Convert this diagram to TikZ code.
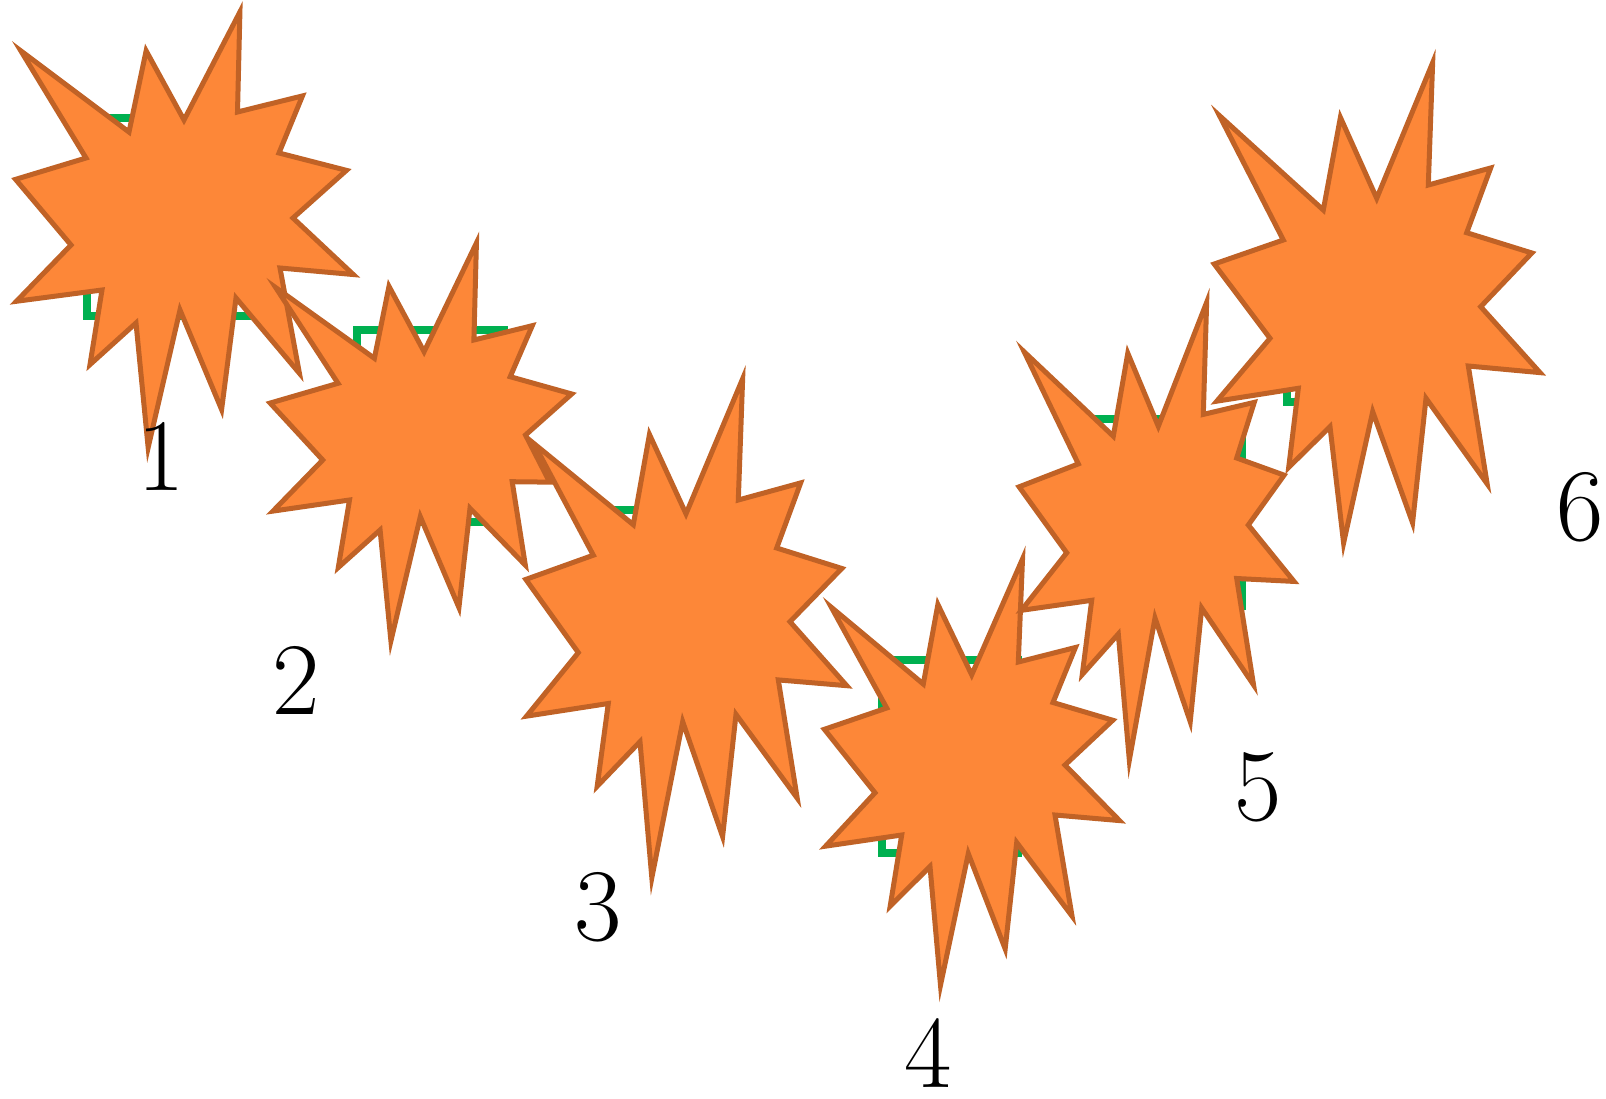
\documentclass[tikz,border=0pt]{standalone}
\usepackage{fontspec}
\definecolor{starfill}{RGB}{253,135,56}
\definecolor{starline}{RGB}{192,98,38}
\definecolor{boxgreen}{RGB}{0,176,80}
% #1 = name prefix, #2 = 24 vertices x/y (tip, inner, tip, inner, ...) as seen;
% tips are pulled back by the miter overhang of the 5pt outline
\newcommand\makeburst[2]{%
  \foreach [count=\k] \vx/\vy in {#2} {%
    \expandafter\xdef\csname bx#1\k\endcsname{\vx}%
    \expandafter\xdef\csname by#1\k\endcsname{\vy}}%
  \foreach \k in {1,3,...,23} {%
    \pgfmathtruncatemacro\kp{\k==1 ? 24 : \k-1}%
    \pgfmathtruncatemacro\kn{\k+1}%
    \edef\xa{\csname bx#1\k\endcsname}\edef\ya{\csname by#1\k\endcsname}%
    \edef\xb{\csname bx#1\kp\endcsname}\edef\yb{\csname by#1\kp\endcsname}%
    \edef\xc{\csname bx#1\kn\endcsname}\edef\yc{\csname by#1\kn\endcsname}%
    \pgfmathsetmacro\aone{atan2(\yb-\ya,\xb-\xa)}%
    \pgfmathsetmacro\atwo{atan2(\yc-\ya,\xc-\xa)}%
    \pgfmathsetmacro\dif{mod(\atwo-\aone+540,360)-180}%
    \pgfmathsetmacro\bis{\aone+\dif/2}%
    \pgfmathsetmacro\dd{2.5/sin(abs(\dif)/2)}%
    \pgfmathsetmacro\nx{\xa+\dd*cos(\bis)}%
    \pgfmathsetmacro\ny{\ya+\dd*sin(\bis)}%
    \coordinate (#1t\k) at (\nx,\ny);%
  }%
  \foreach \k in {2,4,...,24} {%
    \edef\xa{\csname bx#1\k\endcsname}\edef\ya{\csname by#1\k\endcsname}%
    \coordinate (#1r\k) at (\xa,\ya);}%
  \draw[burst] (#1t1) -- (#1r2) -- (#1t3) -- (#1r4) -- (#1t5) -- (#1r6) --
    (#1t7) -- (#1r8) -- (#1t9) -- (#1r10) -- (#1t11) -- (#1r12) --
    (#1t13) -- (#1r14) -- (#1t15) -- (#1r16) -- (#1t17) -- (#1r18) --
    (#1t19) -- (#1r20) -- (#1t21) -- (#1r22) -- (#1t23) -- (#1r24) -- cycle;%
}
\begin{document}
\begin{tikzpicture}[x=1pt,y=-1pt,
  burst/.style={fill=starfill,draw=starline,line width=5pt,line join=miter,miter limit=12},
  greenbox/.style={draw=boxgreen,line width=8pt,line join=miter},
  numlabel/.style={font=\fontsize{103}{103}\selectfont,inner sep=0pt,anchor=base,text=black}]
\useasboundingbox (0,0) rectangle (1606,1098);
% green boxes behind the bursts
\draw[greenbox] (87,118) rectangle (250,316);
\draw[greenbox] (357,330) rectangle (504,522);
\draw[greenbox] (600,510) rectangle (672,690);
\draw[greenbox] (882,660) rectangle (1018,853);
\draw[greenbox] (1096,419) rectangle (1242,606);
\draw[greenbox] (1287,214) rectangle (1440,402);
% bursts
\makeburst{A}{243/0, 237.5/112, 307/92, 279/153, 352/169, 293/218, 361/278, 280/268, 304/383, 236/298, 223/420, 180/310, 147/465, 136/323, 86/372, 102/290, 9/305, 71/245, 11/178, 86/158, 11/40, 129/132, 145/43, 184/120}
\makeburst{B}{479.6/230, 473.9/340, 537/321.7, 510.2/376.7, 577.2/392.7, 525.5/435, 554.2/485, 512.2/481.7, 529.4/573.3, 470/508.3, 460.5/618.3, 420.3/516.7, 389.7/658.3, 380.1/530, 334.2/575, 349.5/500, 265.3/515, 322.7/460, 265.3/401.7, 338/383.3, 265.3/276.7, 374.4/358.3, 387.8/278.3, 424.1/351.7}
\makeburst{C}{746/363.6, 738.3/500, 805/478.9, 776.7/548, 846.7/567.2, 790/621.7, 853.3/689, 778.3/679.9, 801.7/809, 736/714.4, 724/849, 682.7/721.7, 650.7/898, 640/741.7, 593.3/794.4, 608.3/703.5, 520/719.9, 578.3/652.6, 521.7/578.1, 593.3/555.2, 525/432.7, 633.3/524.7, 648.3/425.4, 686/513.8}
\makeburst{D}{1026/544, 1018.3/662, 1080/643.5, 1053/702.5, 1118/719, 1065/765, 1126.7/824, 1055/815, 1076.7/927, 1016.7/842.5, 1006.7/960.5, 968.3/853.6, 939.3/1004.7, 930/866.5, 886/914.4, 901.7/835, 818.3/850, 875/792.8, 820/728, 886.7/708, 821.7/595.6, 923.3/684, 936.7/595.6, 971.7/674.8}
\makeburst{E}{1210/286, 1203.3/414.4, 1258.3/398.6, 1236.7/458, 1288.3/473.8, 1248.3/525, 1300/584.5, 1236.7/578.5, 1258.3/697, 1201.7/608, 1191.7/734.7, 1155/618, 1128.3/782, 1118.3/634, 1078.3/683.3, 1091.7/600.3, 1015/614, 1066.7/552.8, 1015/485.6, 1078.3/463.9, 1015/339.3, 1113.3/436.2, 1126.7/343.3, 1158.3/426.3}
\makeburst{F}{1436/47.3, 1428.3/185, 1495/164, 1466.7/232.7, 1536.7/251.7, 1480.7/306.7, 1546.7/376, 1468.3/366, 1491.7/495, 1426/398.3, 1414/535, 1372.7/411.7, 1342.7/560, 1330/426.7, 1285/475, 1298.3/388.3, 1210/405, 1270/338.3, 1210/262.7, 1283.3/240, 1210/103.3, 1323.3/210, 1339.3/108.3, 1376.7/198.3}
% labels
\node[numlabel] (l1) at (161,490) {1};
\node[numlabel] (l2) at (296,714) {2};
\node[numlabel] (l3) at (598,940) {3};
\node[numlabel] (l4) at (928,1087) {4};
\node[numlabel] (l5) at (1258,820) {5};
\node[numlabel] (l6) at (1580,540) {6};
\end{tikzpicture}
\end{document}
